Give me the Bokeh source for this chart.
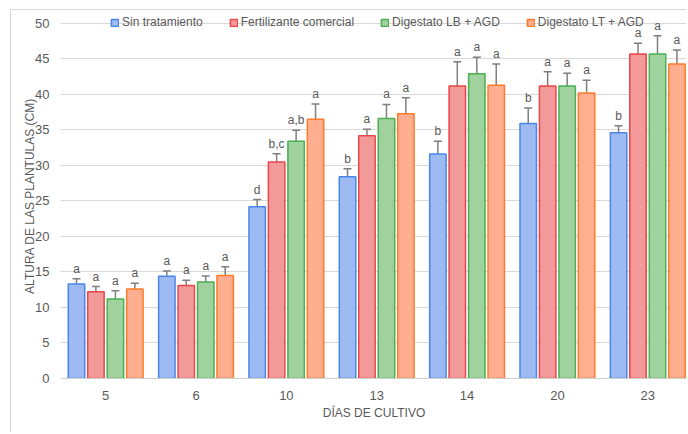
from bokeh.plotting import figure
from bokeh.models import (ColumnDataSource, Range1d, Whisker, TeeHead, FixedTicker,
                          Legend, LegendItem, LabelSet)
from bokeh.transform import dodge
from bokeh.core.properties import value
from bokeh.embed import file_html
from bokeh.resources import INLINE

days = ["5", "6", "10", "13", "14", "20", "23"]
series_names = ["Sin tratamiento", "Fertilizante comercial", "Digestato LB + AGD", "Digestato LT + AGD"]

sin_trat = [13.3, 14.4, 24.2, 28.4, 31.6, 35.9, 34.6]
sin_trat_err = [0.75, 0.75, 1.0, 1.15, 1.8, 2.2, 1.0]
sin_trat_lbl = ["a", "a", "d", "b", "b", "b", "b"]

fert = [12.2, 13.1, 30.5, 34.2, 41.2, 41.2, 45.7]
fert_err = [0.75, 0.75, 1.15, 0.9, 3.4, 2.0, 1.5]
fert_lbl = ["a", "a", "b,c", "a", "a", "a", "a"]

lb_agd = [11.2, 13.6, 33.4, 36.6, 42.9, 41.2, 45.7]
lb_agd_err = [1.15, 0.85, 1.55, 2.0, 2.35, 1.8, 2.55]
lb_agd_lbl = ["a", "a", "a,b", "a", "a", "a", "a"]

lt_agd = [12.6, 14.5, 36.5, 37.3, 41.3, 40.2, 44.3]
lt_agd_err = [0.8, 1.25, 2.15, 2.25, 3.0, 1.8, 1.95]
lt_agd_lbl = ["a", "a", "a", "a", "a", "a", "a"]

values = [sin_trat, fert, lb_agd, lt_agd]
errors = [sin_trat_err, fert_err, lb_agd_err, lt_agd_err]
labels = [sin_trat_lbl, fert_lbl, lb_agd_lbl, lt_agd_lbl]

fill_colors = ["#9dbaf3", "#f29a9a", "#9fd29f", "#ffae8f"]
line_colors = ["#4a86e8", "#e8474a", "#4caf50", "#ff7b29"]
offsets = [-0.323, -0.108, 0.108, 0.323]

FONT = "Liberation Sans"
GRAY = "#595959"

pos = list(range(len(days)))

p = figure(width=676, height=423, x_range=Range1d(-0.5, 6.44), y_range=Range1d(0, 51.4),
           output_backend="svg", toolbar_location=None,
           min_border_left=49, min_border_right=0, min_border_top=3, min_border_bottom=55,
           styles={"border-left": "1px solid #d9d9d9", "border-top": "1px solid #d9d9d9",
                   "margin-left": "10px", "margin-top": "9px"})
p.outline_line_color = None
p.xgrid.grid_line_color = None
p.ygrid.grid_line_color = "#d9d9d9"
p.ygrid.grid_line_width = 1

p.yaxis.ticker = FixedTicker(ticks=list(range(0, 51, 5)))
p.yaxis.axis_line_color = None
p.yaxis.major_tick_line_color = None
p.yaxis.minor_tick_line_color = None
p.yaxis.major_label_text_font = FONT
p.yaxis.major_label_text_font_size = "13px"
p.yaxis.major_label_text_color = GRAY
p.yaxis.major_label_standoff = 5
p.yaxis.axis_label = "ALTURA DE LAS PLANTULAS (CM)"
p.yaxis.axis_label_text_font = FONT
p.yaxis.axis_label_text_font_style = "normal"
p.yaxis.axis_label_text_font_size = "12px"
p.yaxis.axis_label_text_color = GRAY
p.yaxis.axis_label_standoff = -5

p.xaxis.ticker = FixedTicker(ticks=pos)
p.xaxis.major_label_overrides = {i: d for i, d in zip(pos, days)}
p.xaxis.axis_line_color = "#d0d0d0"
p.xaxis.major_tick_line_color = None
p.xaxis.minor_tick_line_color = None
p.xaxis.major_label_text_font = FONT
p.xaxis.major_label_text_font_size = "13px"
p.xaxis.major_label_text_color = GRAY
p.xaxis.major_label_standoff = 6
p.xaxis.axis_label = "DÍAS DE CULTIVO"
p.xaxis.axis_label_text_font = FONT
p.xaxis.axis_label_text_font_style = "normal"
p.xaxis.axis_label_text_font_size = "12px"
p.xaxis.axis_label_text_color = GRAY
p.xaxis.axis_label_standoff = 3

items = []
for i in range(4):
    top_err = [v + e for v, e in zip(values[i], errors[i])]
    low_err = [v - e for v, e in zip(values[i], errors[i])]
    src = ColumnDataSource(dict(x=pos, val=values[i], up=top_err, lo=low_err, lbl=labels[i]))
    r = p.vbar(x=dodge("x", offsets[i]), top="val", width=0.182, source=src,
               fill_color=fill_colors[i], line_color=line_colors[i], line_width=1.5)
    items.append(LegendItem(label=series_names[i], renderers=[r]))
    w = Whisker(base=dodge("x", offsets[i]), upper="up", lower="lo", source=src,
                line_color="#7f7f7f", line_width=1.5,
                upper_head=TeeHead(size=8, line_color="#7f7f7f", line_width=1.5),
                lower_head=TeeHead(size=8, line_color="#7f7f7f", line_width=1.5))
    p.add_layout(w)
    ls = LabelSet(x=dodge("x", offsets[i]), y="up", text="lbl", source=src,
                  text_align="center", text_baseline="bottom", y_offset=3,
                  text_font=value(FONT), text_font_size="12px", text_color=GRAY)
    p.add_layout(ls)

legend = Legend(items=items, orientation="horizontal", location=(50, 349),
                background_fill_alpha=0, border_line_color=None,
                label_text_font=FONT, label_text_font_size="12px", label_text_color=GRAY,
                glyph_width=9, glyph_height=9, label_height=14, spacing=26, padding=0, margin=0,
                label_standoff=3)
p.add_layout(legend, "center")

open("out.html", "w").write(file_html(p, INLINE))
